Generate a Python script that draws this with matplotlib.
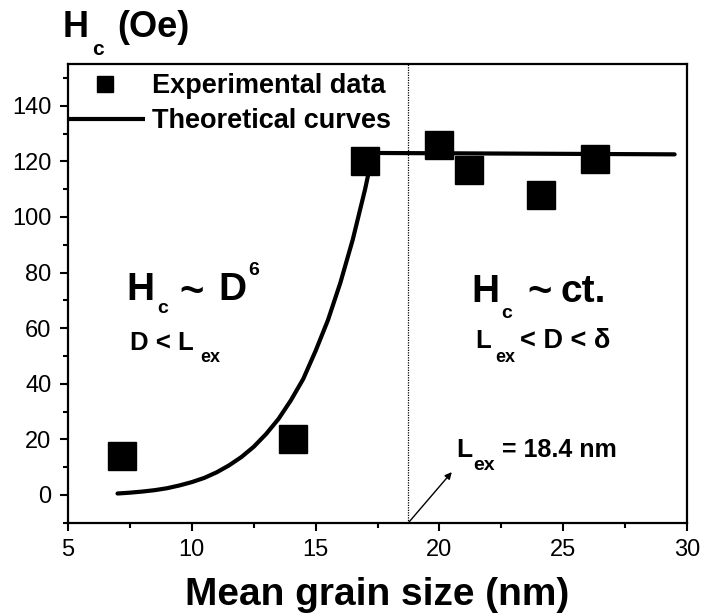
import matplotlib
matplotlib.use("Agg")
import matplotlib.pyplot as plt
from matplotlib.ticker import MultipleLocator

plt.rcParams['font.family'] = ['Liberation Sans', 'DejaVu Sans']

# ---- data ----
exp_d = [7.2, 14.1, 17.0, 20.0, 21.2, 24.1, 26.3]
exp_hc = [14, 20, 120, 126, 117, 108, 121]

theo_d6_d = [7.0, 7.5, 8.0, 8.5, 9.0, 9.5, 10.0, 10.5, 11.0, 11.5, 12.0, 12.5, 13.0,
             13.5, 14.0, 14.5, 15.0, 15.5, 16.0, 16.5, 17.0, 17.3]
theo_d6_hc = [0.5, 0.8, 1.2, 1.7, 2.4, 3.4, 4.6, 6.1, 8.1, 10.6, 13.6, 17.3, 21.9,
              27.3, 34.0, 41.7, 51.8, 62.9, 76.3, 91.8, 110.0, 122.5]
theo_ct_d = [17.3, 29.5]
theo_ct_hc = [123.0, 122.5]

lex_line = 18.75
xlim = (5, 30)
ylim = (-10, 155)
xticks = [5, 10, 15, 20, 25, 30]
yticks = [0, 20, 40, 60, 80, 100, 120, 140]

W, H = 701, 616
fig = plt.figure(figsize=(W / 100, H / 100), dpi=100)
ax = fig.add_axes([68 / W, 1 - 522.7 / H, (687 - 68) / W, (522.7 - 64) / H])

ax.plot(theo_d6_d, theo_d6_hc, color='black', lw=3, solid_capstyle='round',
        solid_joinstyle='round', zorder=2)
ax.plot(theo_ct_d, theo_ct_hc, color='black', lw=3, solid_capstyle='round', zorder=2)
ax.plot(exp_d, exp_hc, ls='none', marker='s', ms=20, color='black', mec='black', zorder=3)

ax.axvline(lex_line, color='black', ls=(0, (1, 1)), lw=0.9, zorder=1)
ax.annotate('', xy=(20.5, 8.2), xytext=(lex_line, -10),
            arrowprops=dict(arrowstyle='-|>', color='black', lw=1, mutation_scale=10,
                            shrinkA=0, shrinkB=0), annotation_clip=False)

ax.set_xlim(*xlim)
ax.set_ylim(*ylim)
ax.set_xticks(xticks)
ax.set_yticks(yticks)
ax.xaxis.set_minor_locator(MultipleLocator(2.5))
ax.yaxis.set_minor_locator(MultipleLocator(10))
ax.tick_params(which='major', direction='out', length=6, width=1.5, labelsize=17, pad=6)
ax.tick_params(which='minor', direction='out', length=3.5, width=1.5)
ax.tick_params(top=False, right=False, which='both')
for s in ax.spines.values():
    s.set_linewidth(1.6)

# legend (manual)
ax.plot([0.0605], [0.956], transform=ax.transAxes, marker='s', ms=11, color='black',
        clip_on=False)
ax.plot([0.0, 0.124], [0.880, 0.880], transform=ax.transAxes, color='black', lw=3,
        clip_on=False, solid_capstyle='butt')
ax.text(0.136, 0.937, 'Experimental data', transform=ax.transAxes, fontsize=19.5,
        fontweight='bold', va='baseline', ha='left')
ax.text(0.136, 0.860, 'Theoretical curves', transform=ax.transAxes, fontsize=19.5,
        fontweight='bold', va='baseline', ha='left')


def ftxt(x, y, s, size, va='baseline', **kw):
    fig.text(x / W, 1 - y / H, s, fontsize=size, fontweight='bold', va=va, ha='left', **kw)


# y label
ftxt(63, 37, 'H', 26)
ftxt(92, 55, 'c', 15)
ftxt(117, 37, '(Oe)', 26)

# x label
fig.text(377 / W, 1 - 605 / H, 'Mean grain size (nm)', fontsize=28, fontweight='bold',
         ha='center', va='baseline')

# left region annotation
ftxt(126.7, 300, 'H', 28)
ftxt(157, 313, 'c', 14)
ftxt(179, 293, '~', 30, va='center')
ftxt(218, 300, 'D', 28)
ftxt(248, 275, '6', 14)
ftxt(130, 350, 'D < L', 18.5)
ftxt(200, 361.7, 'ex', 13)

# right region annotation
ftxt(471.7, 301.7, 'H', 28)
ftxt(501.7, 318, 'c', 14)
ftxt(527, 293, '~', 30, va='center')
ftxt(560, 301.7, 'ct.', 28)
ftxt(475, 348, 'L', 18.5)
ftxt(495, 361.7, 'ex', 13)
ftxt(520, 348, '< D < δ', 19.5)

# Lex annotation
ftxt(456.7, 456.7, 'L', 19)
ftxt(473.3, 470, 'ex', 14)
ftxt(501.7, 456.7, '= 18.4 nm', 18)

fig.savefig('out.png', dpi=100)
